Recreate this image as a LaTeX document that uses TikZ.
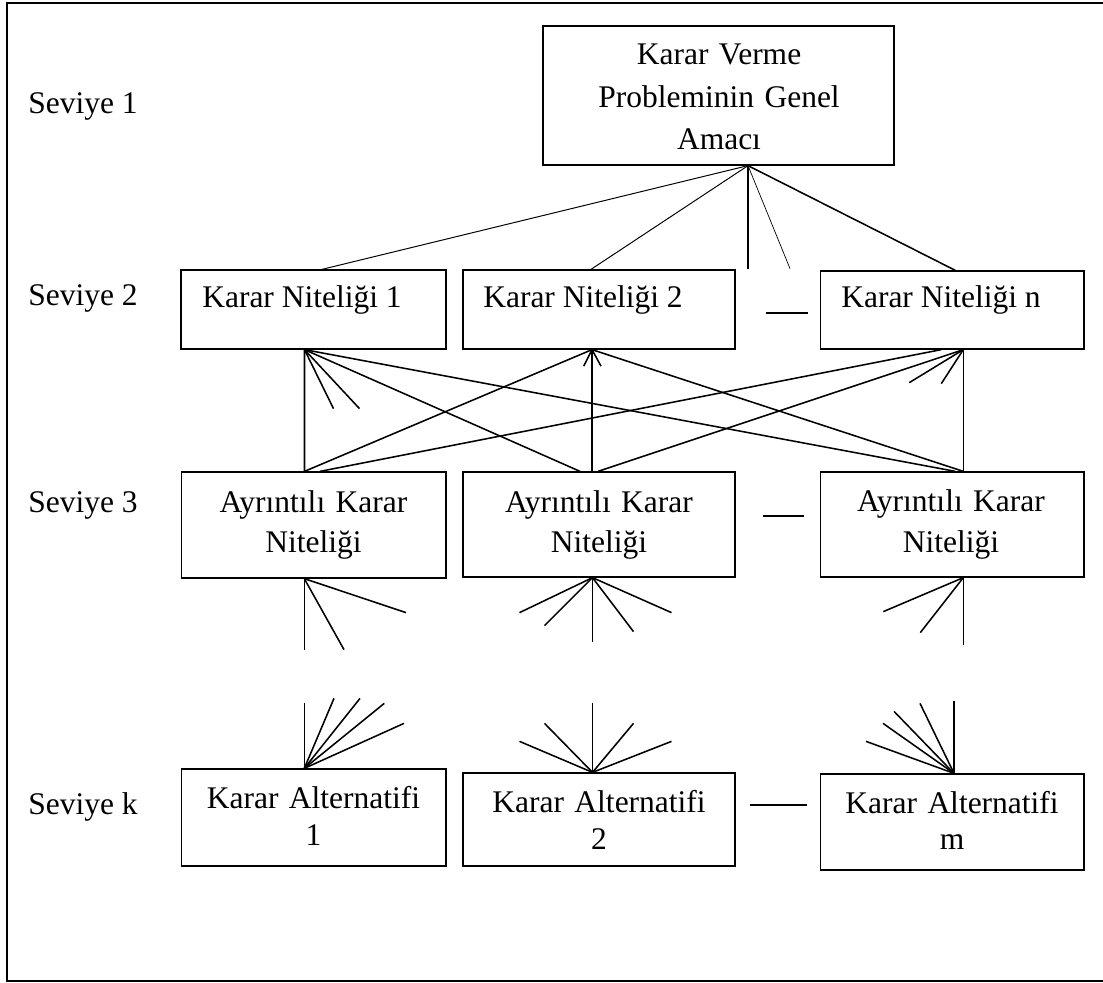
\documentclass[tikz,border=0pt]{standalone}
\usepackage{fontspec}
\setmainfont{Liberation Serif}
\usetikzlibrary{calc}

\begin{document}
\begin{tikzpicture}[x=0.025cm,y=-0.025cm,
	box/.style 2 args={draw,line width=0.9pt,inner sep=0pt,minimum width=#1*0.025cm,minimum height=#2*0.025cm},
	wire/.style={line width=1.1pt},
	thinwire/.style={line width=0.7pt},
	lbl/.style={inner sep=0pt,anchor=base west,font=\fontsize{22.4}{29}\selectfont},
	txt/.style={inner sep=0pt,anchor=base,align=center,text width=8cm,font=\fontsize{22.4}{#1}\selectfont}]
				\useasboundingbox (0,0) rectangle (1103,983);
				% frame
				\draw [line width=0.9pt] (1110,3) -- (7,3) -- (7,981) -- (1110,981);
				% levels
				\node [lbl] (sev1) at (28,114) {Seviye 1};
				\node [lbl] (sev2) at (28,306) {Seviye 2};
				\node [lbl] (sev3) at (28,512) {Seviye 3};
				\node [lbl] (sevk) at (28,814) {Seviye k};
				% level 1
				\node [box={351}{139}] (amac) at (718.5,95.5) {};
				\node [txt=30.4pt] (amac-t) at (719,64.3) {Karar Verme\\Probleminin Genel\\Amacı};
				% level 2
				\node [box={265}{79}] (nit1) at (313.5,309.5) {};
				\node [box={272}{79}] (nit2) at (599,309.5) {};
				\node [box={263.5}{78}] (nitn) at (952.3,310) {};
				\node [lbl] (nit1-t) at (202,308) {Karar Niteliği 1};
				\node [lbl] (nit2-t) at (483,308) {Karar Niteliği 2};
				\node [lbl] (nitn-t) at (841,308) {Karar Niteliği n};
				% level 3
				\node [box={264.5}{106}] (ayr1) at (313.7,525) {};
				\node [box={272}{105}] (ayr2) at (599,524.5) {};
				\node [box={263.3}{105}] (ayrn) at (952.3,524.5) {};
				\node [txt=29.1pt] (ayr1-t) at (313.5,512) {Ayrıntılı Karar\\Niteliği};
				\node [txt=29.1pt] (ayr2-t) at (599,512) {Ayrıntılı Karar\\Niteliği};
				\node [txt=29.1pt] (ayrn-t) at (951,511.7) {Ayrıntılı Karar\\Niteliği};
				% level k
				\node [box={264.5}{97}] (alt1) at (313.7,817.5) {};
				\node [box={272}{93}] (alt2) at (599,819.5) {};
				\node [box={263.5}{96}] (altm) at (952.3,822) {};
				\node [txt=26.2pt] (alt1-t) at (313.5,808.5) {Karar Alternatifi\\1};
				\node [txt=26.2pt] (alt2-t) at (599,812.7) {Karar Alternatifi\\2};
				\node [txt=26.2pt] (altm-t) at (952,813) {Karar Alternatifi\\m};
				% fan below the goal
				\coordinate (ap) at ($(amac.south)+(29.5,0)$);
				\draw [thinwire] (ap) -- ($(nit1.north)+(8.5,0)$);
				\draw [thinwire] (ap) -- ($(nit2.north)+(-8,0)$);
				\draw [wire] (ap) -- ++(0,103) coordinate (ap-v);
				\draw [line width=0.5pt] (ap) -- ++(42,103) coordinate (ap-d);
				\draw [wire] (ap) -- ($(nitn.north)+(3,0)$);
				% level 2 to level 3
				\coordinate (n1b) at ($(nit1.south)+(-9,0)$);
				\coordinate (n2b) at ($(nit2.south)+(-7,0)$);
				\coordinate (nnb) at ($(nitn.south)+(11,0)$);
				\coordinate (nnb2) at ($(nitn.south)+(-11,0)$);
				\coordinate (a1t) at ($(ayr1.north)+(-9.2,0)$);
				\coordinate (a1t2) at ($(ayr1.north)+(6.3,0)$);
				\coordinate (a2t) at ($(ayr2.north)+(-19,0)$);
				\coordinate (a2v) at ($(ayr2.north)+(-7,0)$);
				\coordinate (a2t2) at ($(ayr2.north)+(-1,0)$);
				\coordinate (ant) at ($(ayrn.north)+(3,0)$);
				\coordinate (anv) at ($(ayrn.north)+(11,0)$);
				\foreach \a/\b in {n1b/a1t, n1b/a2t, n1b/ant, n2b/a1t, n2b/a2v, n2b/anv, nnb/a2t2, nnb/anv, nnb2/a1t2}
					\draw [wire] (\a) -- (\b);
				\foreach \dx/\dy [count=\i] in {29/59, 55/59}
					\draw [wire] (n1b) -- ++(\dx,\dy) coordinate (n1s\i);
				\foreach \dx/\dy [count=\i] in {-8.3/16.5, 9/16.5}
					\draw [wire] (n2b) -- ++(\dx,\dy) coordinate (n2s\i);
				\foreach \dx/\dy [count=\i] in {-54/33, -22/34}
					\draw [wire] (nnb) -- ++(\dx,\dy) coordinate (nns\i);
				% below level 3
				\coordinate (a1b) at ($(ayr1.south)+(-9.4,0)$);
				\coordinate (a2b) at ($(ayr2.south)+(-6.5,0)$);
				\coordinate (anb) at ($(ayrn.south)+(11,0)$);
				\foreach \dx/\dy [count=\i] in {0/71, 39.7/71, 101.7/34}
					\draw [wire] (a1b) -- ++(\dx,\dy) coordinate (a1s\i);
				\foreach \dx/\dy [count=\i] in {-73/35, -48/48, 0/64, 41/54, 79/35}
					\draw [wire] (a2b) -- ++(\dx,\dy) coordinate (a2s\i);
				\foreach \dx/\dy [count=\i] in {-80/34, -43/55, 0/67}
					\draw [wire] (anb) -- ++(\dx,\dy) coordinate (ans\i);
				% above level k
				\coordinate (k1t) at ($(alt1.north)+(-9.4,0)$);
				\coordinate (k2t) at ($(alt2.north)+(-6.5,0)$);
				\coordinate (kmt) at ($(altm.north)+(1.7,0)$);
				\foreach \dx/\dy [count=\i] in {0/-65, 29.7/-70, 55.7/-70, 80/-65, 99.7/-45}
					\draw [wire] (k1t) -- ++(\dx,\dy) coordinate (k1s\i);
				\foreach \dx/\dy [count=\i] in {-73/-31, -48/-49, 0/-69, 41/-49, 79/-31}
					\draw [wire] (k2t) -- ++(\dx,\dy) coordinate (k2s\i);
				\foreach \dx/\dy [count=\i] in {-88/-32, -71/-50, -60/-62, -34/-70, 0/-72}
					\draw [wire] (kmt) -- ++(\dx,\dy) coordinate (kms\i);
				% dashes between the boxes
				\draw [wire] ($(nit2.east)+(30,3.5)$) coordinate (d2) -- ++(42,0);
				\draw [wire] ($(ayr2.east)+(27,-8.5)$) coordinate (d3) -- ++(41,0);
				\draw [wire] ($(alt2.east)+(14,-14.5)$) coordinate (dk) -- ++(57,0);
\end{tikzpicture}
\end{document}
